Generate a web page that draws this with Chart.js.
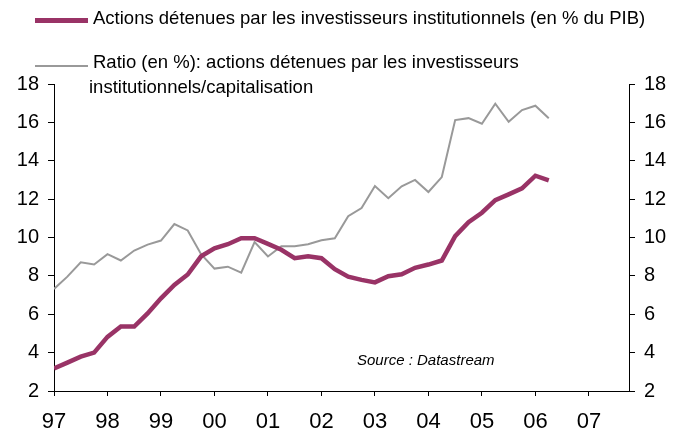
<!DOCTYPE html>
<html>
<head>
<meta charset="utf-8">
<script src="https://cdn.jsdelivr.net/npm/chart.js@4"></script>
<style>
    body { margin: 0; background: #fff; font-family: "Liberation Sans", Arial, sans-serif; }
    #wrap { position: relative; width: 676px; height: 434px; }
    .txt { position: absolute; white-space: nowrap; color: #000; line-height: 18px; font-size: 18.5px; }
    .swatch { position: absolute; }
</style>
</head>
<body>
<div id="wrap">
    <canvas id="chart"></canvas>
    <div class="swatch" style="left:35px; top:18px; width:53px; height:5px; background:#993366;"></div>
    <div class="txt" style="left:93px; top:9px;">Actions détenues par les investisseurs institutionnels (en % du PIB)</div>
    <div class="swatch" style="left:35px; top:65px; width:53px; height:2px; background:#999999;"></div>
    <div class="txt" style="left:93px; top:53px;">Ratio (en %): actions détenues par les investisseurs</div>
    <div class="txt" style="left:89px; top:78px;">institutionnels/capitalisation</div>
    <div class="txt" style="left:357px; top:352px; font-size:15px; line-height:15px; font-style:italic;">Source : Datastream</div>
</div>
<script>
// Trimestres (T1 1997 à T2 2006)
const quarters = [
    '1997T1', '1997T2', '1997T3', '1997T4', '1998T1', '1998T2', '1998T3', '1998T4',
    '1999T1', '1999T2', '1999T3', '1999T4', '2000T1', '2000T2', '2000T3', '2000T4',
    '2001T1', '2001T2', '2001T3', '2001T4', '2002T1', '2002T2', '2002T3', '2002T4',
    '2003T1', '2003T2', '2003T3', '2003T4', '2004T1', '2004T2', '2004T3', '2004T4',
    '2005T1', '2005T2', '2005T3', '2005T4', '2006T1', '2006T2'
];

// Actions détenues par les investisseurs institutionnels (en % du PIB)
const actionsPib = [
    3.17, 3.48, 3.79, 4.0, 4.82, 5.36, 5.36, 6.04,
    6.83, 7.53, 8.07, 9.02, 9.44, 9.65, 9.96, 9.96,
    9.67, 9.36, 8.92, 9.02, 8.92, 8.35, 7.96, 7.79,
    7.66, 7.98, 8.08, 8.42, 8.59, 8.80, 10.07, 10.8,
    11.29, 11.95, 12.25, 12.56, 13.22, 12.98
];

// Ratio (en %) : actions détenues / capitalisation
const ratioCapi = [
    7.32, 7.96, 8.71, 8.59, 9.13, 8.80, 9.32, 9.63,
    9.84, 10.70, 10.37, 9.13, 8.38, 8.48, 8.17, 9.76,
    9.01, 9.55, 9.55, 9.65, 9.86, 9.96, 11.11, 11.53,
    12.68, 12.05, 12.67, 13.0, 12.37, 13.15, 16.12, 16.22,
    15.93, 16.97, 16.03, 16.64, 16.87, 16.22
];

const yearLabels = ['97', '98', '99', '00', '01', '02', '03', '04', '05', '06', '07'];
const yTicks = [2, 4, 6, 8, 10, 12, 14, 16, 18];

// position numérique de chaque trimestre
const xPos = quarters.map(q => parseInt(q.slice(0, 4)) + (parseInt(q.slice(5)) - 1) / 4);

const toPoints = vals => vals.map((v, i) => ({ x: xPos[i], y: v }));

const tickFont = { family: '"Liberation Sans", Arial, sans-serif', size: 20 };

function yAxis(position, width) {
    return {
        type: 'linear',
        position: position,
        min: 2,
        max: 18,
        afterBuildTicks: scale => { scale.ticks = yTicks.map(v => ({ value: v })); },
        afterFit: scale => { scale.width = width; },
        ticks: { color: '#000', font: tickFont, padding: 9 },
        border: { display: true, color: '#000', width: 1 },
        grid: { drawOnChartArea: false, drawTicks: true, tickLength: 6, color: '#000' }
    };
}

new Chart(document.getElementById('chart'), {
    type: 'line',
    data: {
        datasets: [
            {
                label: 'Actions détenues par les investisseurs institutionnels (en % du PIB)',
                data: toPoints(actionsPib),
                borderColor: '#993366',
                borderWidth: 4.5,
                pointRadius: 0,
                tension: 0,
                yAxisID: 'y',
                order: 1
            },
            {
                label: 'Ratio (en %): actions détenues par les investisseurs institutionnels/capitalisation',
                data: toPoints(ratioCapi),
                borderColor: '#999999',
                borderWidth: 2,
                pointRadius: 0,
                tension: 0,
                yAxisID: 'y2',
                order: 2
            }
        ]
    },
    options: {
        responsive: true,
        maintainAspectRatio: false,
        animation: false,
        layout: { padding: { top: 84, left: 0, right: 0, bottom: 0 } },
        plugins: { legend: { display: false }, tooltip: { enabled: false } },
        scales: {
            x: {
                type: 'linear',
                min: 1997,
                max: 2007.75,
                afterBuildTicks: scale => { scale.ticks = yearLabels.map((l, i) => ({ value: 1997 + i })); },
                afterFit: scale => { scale.height = 43; },
                ticks: {
                    color: '#000',
                    font: { family: '"Liberation Sans", Arial, sans-serif', size: 22 },
                    padding: 13,
                    maxRotation: 0,
                    autoSkip: false,
                    callback: v => yearLabels[Math.round(v - 1997)]
                },
                border: { display: true, color: '#000', width: 1 },
                grid: { drawOnChartArea: false, drawTicks: true, tickLength: 5, color: '#000' }
            },
            y: yAxis('left', 54),
            y2: yAxis('right', 47)
        }
    }
});
</script>
</body>
</html>
